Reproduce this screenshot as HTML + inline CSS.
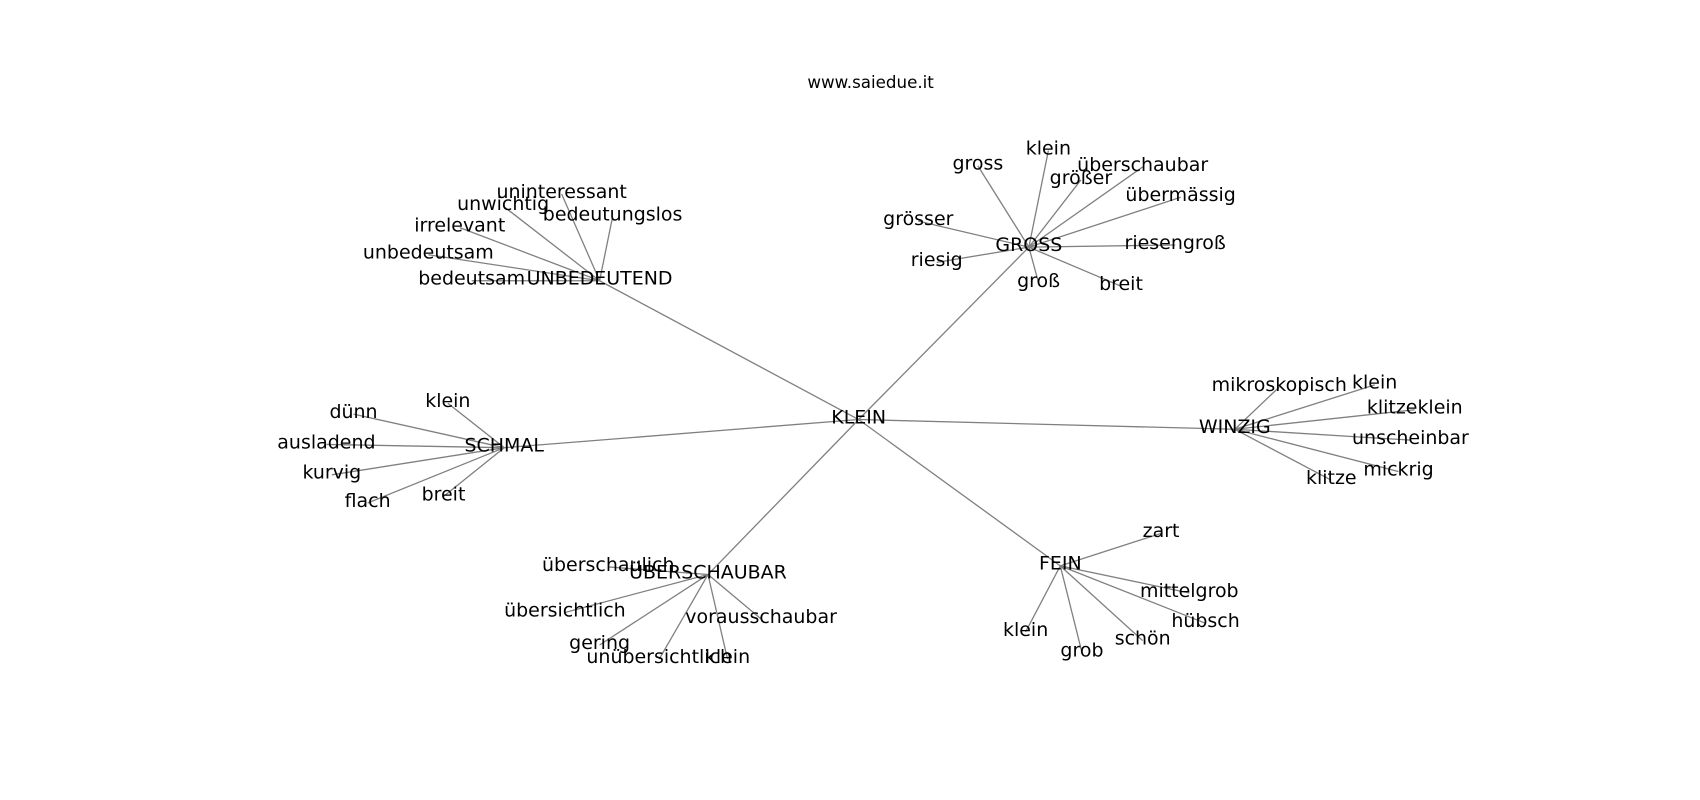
<!DOCTYPE html>
<html><head><meta charset="utf-8"><style>html,body{margin:0;padding:0;background:#fff}svg{display:block}</style></head>
<body>
<svg width="1700" height="800" viewBox="0 0 1568 738" xmlns="http://www.w3.org/2000/svg">
<rect width="1568" height="738" fill="#fff"/>
<g stroke="#808080" stroke-width="1.2" fill="none">
<line x1="792" y1="387" x2="553" y2="259"/>
<line x1="792" y1="387" x2="949" y2="228"/>
<line x1="792" y1="387" x2="1139" y2="396"/>
<line x1="792" y1="387" x2="465" y2="413"/>
<line x1="792" y1="387" x2="653" y2="530"/>
<line x1="792" y1="387" x2="978" y2="522"/>
<line x1="553" y1="259" x2="518" y2="179"/>
<line x1="553" y1="259" x2="464" y2="190"/>
<line x1="553" y1="259" x2="565" y2="200"/>
<line x1="553" y1="259" x2="424" y2="210"/>
<line x1="553" y1="259" x2="395" y2="235"/>
<line x1="553" y1="259" x2="435" y2="259"/>
<line x1="949" y1="228" x2="902" y2="153"/>
<line x1="949" y1="228" x2="967" y2="139"/>
<line x1="949" y1="228" x2="997" y2="166"/>
<line x1="949" y1="228" x2="1054" y2="154"/>
<line x1="949" y1="228" x2="1089" y2="182"/>
<line x1="949" y1="228" x2="847" y2="204"/>
<line x1="949" y1="228" x2="1084" y2="226"/>
<line x1="949" y1="228" x2="864" y2="242"/>
<line x1="949" y1="228" x2="958" y2="261"/>
<line x1="949" y1="228" x2="1034" y2="264"/>
<line x1="1139" y1="396" x2="1180" y2="357"/>
<line x1="1139" y1="396" x2="1268" y2="355"/>
<line x1="1139" y1="396" x2="1305" y2="378"/>
<line x1="1139" y1="396" x2="1301" y2="406"/>
<line x1="1139" y1="396" x2="1290" y2="435"/>
<line x1="1139" y1="396" x2="1228" y2="443"/>
<line x1="465" y1="413" x2="413" y2="372"/>
<line x1="465" y1="413" x2="326" y2="382"/>
<line x1="465" y1="413" x2="301" y2="410"/>
<line x1="465" y1="413" x2="306" y2="438"/>
<line x1="465" y1="413" x2="339" y2="464"/>
<line x1="465" y1="413" x2="409" y2="458"/>
<line x1="653" y1="530" x2="561" y2="523"/>
<line x1="653" y1="530" x2="521" y2="565"/>
<line x1="653" y1="530" x2="553" y2="595"/>
<line x1="653" y1="530" x2="608" y2="608"/>
<line x1="653" y1="530" x2="671" y2="608"/>
<line x1="653" y1="530" x2="702" y2="571"/>
<line x1="978" y1="522" x2="1071" y2="492"/>
<line x1="978" y1="522" x2="1097" y2="547"/>
<line x1="978" y1="522" x2="1112" y2="575"/>
<line x1="978" y1="522" x2="1054" y2="591"/>
<line x1="978" y1="522" x2="998" y2="602"/>
<line x1="978" y1="522" x2="946" y2="583"/>
</g>
<g font-family="'DejaVu Sans', 'Liberation Sans', sans-serif" font-size="17.5" fill="#000" text-anchor="middle" dominant-baseline="central">
<text x="803" y="76" font-size="15.4">www.saiedue.it</text>
<text x="792" y="385">KLEIN</text>
<text x="553" y="257">UNBEDEUTEND</text>
<text x="518" y="177">uninteressant</text>
<text x="464" y="188">unwichtig</text>
<text x="565" y="198">bedeutungslos</text>
<text x="424" y="208">irrelevant</text>
<text x="395" y="233">unbedeutsam</text>
<text x="435" y="257">bedeutsam</text>
<text x="949" y="226">GROSS</text>
<text x="902" y="151">gross</text>
<text x="967" y="137">klein</text>
<text x="997" y="164">größer</text>
<text x="1054" y="152">überschaubar</text>
<text x="1089" y="180">übermässig</text>
<text x="847" y="202">grösser</text>
<text x="1084" y="224">riesengroß</text>
<text x="864" y="240">riesig</text>
<text x="958" y="259">groß</text>
<text x="1034" y="262">breit</text>
<text x="1139" y="394">WINZIG</text>
<text x="1180" y="355">mikroskopisch</text>
<text x="1268" y="353">klein</text>
<text x="1305" y="376">klitzeklein</text>
<text x="1301" y="404">unscheinbar</text>
<text x="1290" y="433">mickrig</text>
<text x="1228" y="441">klitze</text>
<text x="465" y="411">SCHMAL</text>
<text x="413" y="370">klein</text>
<text x="326" y="380">dünn</text>
<text x="301" y="408">ausladend</text>
<text x="306" y="436">kurvig</text>
<text x="339" y="462">flach</text>
<text x="409" y="456">breit</text>
<text x="653" y="528">ÜBERSCHAUBAR</text>
<text x="561" y="521">überschaulich</text>
<text x="521" y="563">übersichtlich</text>
<text x="553" y="593">gering</text>
<text x="608" y="606">unübersichtlich</text>
<text x="671" y="606">klein</text>
<text x="702" y="569">vorausschaubar</text>
<text x="978" y="520">FEIN</text>
<text x="1071" y="490">zart</text>
<text x="1097" y="545">mittelgrob</text>
<text x="1112" y="573">hübsch</text>
<text x="1054" y="589">schön</text>
<text x="998" y="600">grob</text>
<text x="946" y="581">klein</text>
</g>
</svg>
</body></html>
